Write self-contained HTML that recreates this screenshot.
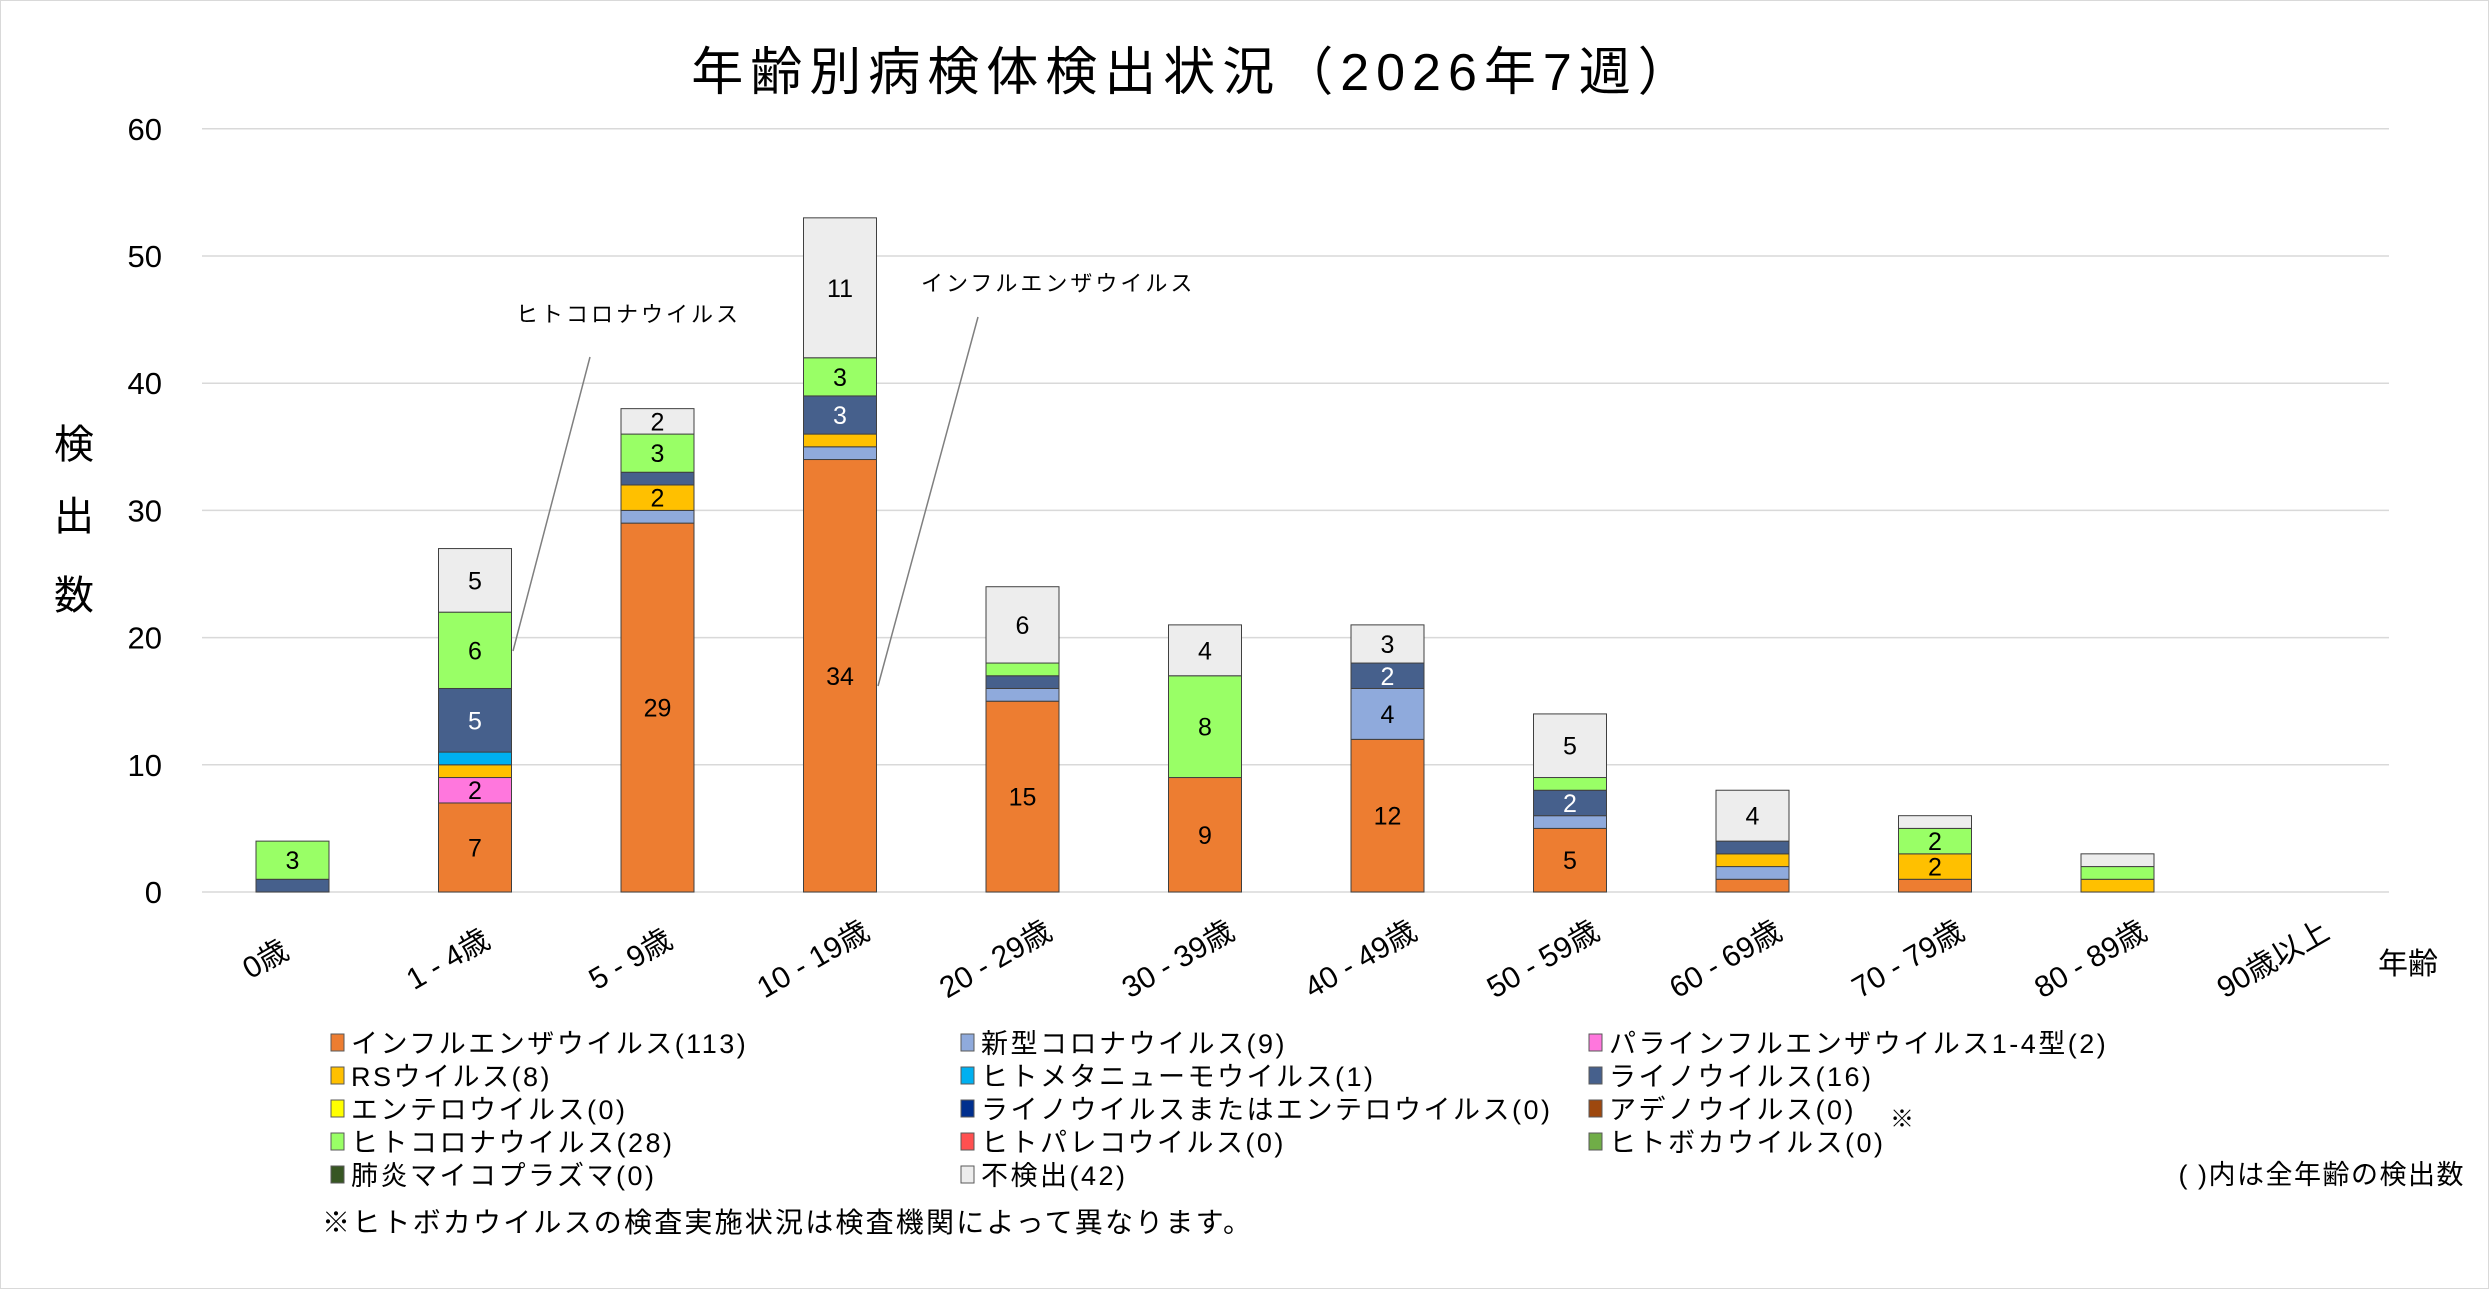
<!DOCTYPE html>
<html><head><meta charset="utf-8"><style>
html,body{margin:0;padding:0;background:#fff}
svg{display:block}
text{font-family:"Liberation Sans","Noto Sans CJK JP",sans-serif}
</style></head><body>
<svg id="s" width="2489" height="1289" xmlns="http://www.w3.org/2000/svg">
<rect x="0.5" y="0.5" width="2488" height="1288" fill="#fff" stroke="#d9d9d9"/>
<text x="1194" y="90" font-size="52" letter-spacing="7" text-anchor="middle" fill="#000">年齢別病検体検出状況（2026年7週）</text>
<g id="grid"></g>
<g id="bars"></g>
<g font-size="40" fill="#000" text-anchor="middle">
<text x="74" y="458">検</text><text x="74" y="530">出</text><text x="74" y="609">数</text>
</g>
<text x="516" y="322" font-size="22" letter-spacing="3">ヒトコロナウイルス</text>
<line x1="590" y1="357" x2="513" y2="651" stroke="#7f7f7f" stroke-width="1.5"/>
<text x="921" y="291" font-size="22" letter-spacing="3">インフルエンザウイルス</text>
<line x1="978" y1="317" x2="878" y2="686" stroke="#7f7f7f" stroke-width="1.5"/>
<text x="2408" y="974" font-size="30" text-anchor="middle">年齢</text>
<g id="leg" font-size="27" letter-spacing="2.5"></g>
<text x="1890" y="1127" font-size="24">※</text>
<text x="2465" y="1184" font-size="27" letter-spacing="1.5" text-anchor="end">( )内は全年齢の検出数</text>
<text x="322" y="1232" font-size="28" letter-spacing="2.2">※ヒトボカウイルスの検査実施状況は検査機関によって異なります。</text>
</svg>
<script>
var NS="http://www.w3.org/2000/svg";
function el(p,t,a,txt){var e=document.createElementNS(NS,t);for(var k in a)e.setAttribute(k,a[k]);if(txt!=null)e.textContent=txt;p.appendChild(e);return e;}
var y0=892,u=12.72;
var g=document.getElementById('grid');
for(var v=0;v<=60;v+=10){var y=y0-v*u;el(g,'line',{x1:202,x2:2389,y1:y,y2:y,stroke:'#d9d9d9','stroke-width':1.5});
el(g,'text',{x:162,y:y+11,'font-size':31,'text-anchor':'end'},String(v));}
var C={inf:'#ED7D31',cov:'#8FAADC',para:'#FF77DD',rs:'#FFC000',hmpv:'#00B0F0',rh:'#46608C',co:'#99FF66',no:'#EDEDED'};
var order=['inf','cov','para','rs','hmpv','rh','co','no'];
var D=[
{rh:1,co:3},
{inf:7,para:2,rs:1,hmpv:1,rh:5,co:6,no:5},
{inf:29,cov:1,rs:2,rh:1,co:3,no:2},
{inf:34,cov:1,rs:1,rh:3,co:3,no:11},
{inf:15,cov:1,rh:1,co:1,no:6},
{inf:9,co:8,no:4},
{inf:12,cov:4,rh:2,no:3},
{inf:5,cov:1,rh:2,co:1,no:5},
{inf:1,cov:1,rs:1,rh:1,no:4},
{inf:1,rs:2,co:2,no:1},
{rs:1,co:1,no:1},
{}];
var L=['0歳','1 - 4歳','5 - 9歳','10 - 19歳','20 - 29歳','30 - 39歳','40 - 49歳','50 - 59歳','60 - 69歳','70 - 79歳','80 - 89歳','90歳以上'];
var b=document.getElementById('bars');
D.forEach(function(d,i){var cx=292.5+182.5*i,cum=0;
order.forEach(function(k){var n=d[k];if(!n)return;var yt=y0-(cum+n)*u,h=n*u;
el(b,'rect',{x:cx-36.5,y:yt,width:73,height:h,fill:C[k],stroke:'#404040','stroke-width':1});
if(n>=2)el(b,'text',{x:cx,y:yt+h/2+9,'font-size':25,'text-anchor':'middle',fill:k=='rh'?'#fff':'#000'},String(n));
cum+=n;});
el(b,'text',{x:0,y:0,'font-size':30,'text-anchor':'middle',transform:'translate('+(cx-22)+',968) rotate(-30)'},L[i]);
});
var leg=[['インフルエンザウイルス(113)','#ED7D31'],['新型コロナウイルス(9)','#8FAADC'],['パラインフルエンザウイルス1-4型(2)','#FF77DD'],
['RSウイルス(8)','#FFC000'],['ヒトメタニューモウイルス(1)','#00B0F0'],['ライノウイルス(16)','#46608C'],
['エンテロウイルス(0)','#FFFF00'],['ライノウイルスまたはエンテロウイルス(0)','#002F8E'],['アデノウイルス(0)','#9E480E'],
['ヒトコロナウイルス(28)','#99FF66'],['ヒトパレコウイルス(0)','#FF5050'],['ヒトボカウイルス(0)','#70AD47'],
['肺炎マイコプラズマ(0)','#375623'],['不検出(42)','#EDEDED']];
var lg=document.getElementById('leg'),xs=[331,961,1589];
leg.forEach(function(it,i){var c=i%3,r=Math.floor(i/3),x=xs[c],y=1043+r*33;
el(lg,'rect',{x:x,y:y-9,width:13,height:17,fill:it[1],stroke:'#595959','stroke-width':1});
el(lg,'text',{x:x+20,y:y+10},it[0]);});
</script>
</body></html>
